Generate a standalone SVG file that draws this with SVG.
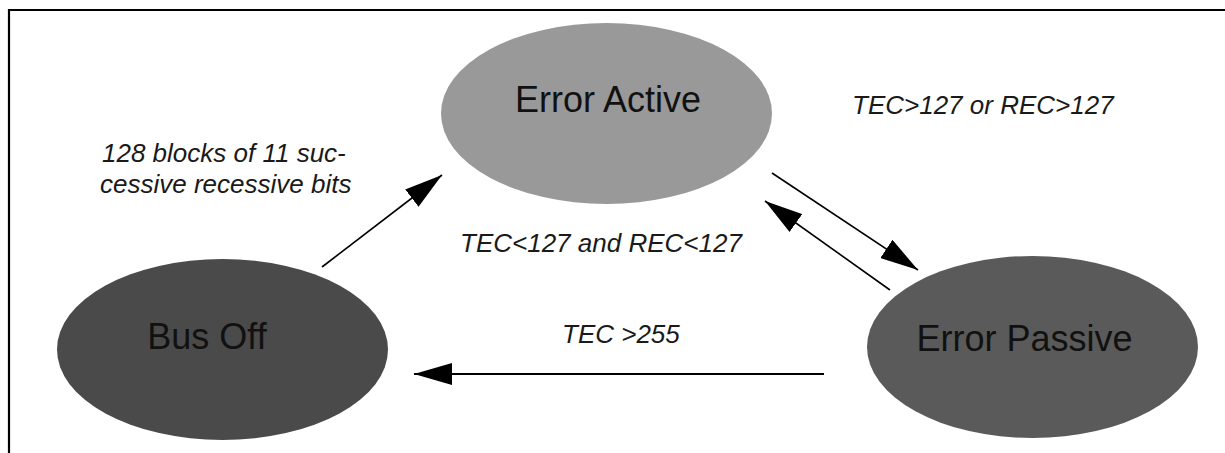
<svg xmlns="http://www.w3.org/2000/svg" width="1225" height="453" viewBox="0 0 1225 453">
  <style>
    .node-label { font-family: "Liberation Sans", Arial, sans-serif; font-size: 36px; fill: #111; }
    .edge-label { font-family: "Liberation Sans", Arial, sans-serif; font-size: 26px; font-style: italic; fill: #1a1a1a; }
    .edge { stroke: #000; stroke-width: 1.6; fill: none; marker-end: url(#arrow); }
  </style>
  <defs>
    <marker id="arrow" markerUnits="userSpaceOnUse" markerWidth="38" markerHeight="22" refX="38" refY="11" orient="auto" viewBox="0 0 38 22">
      <path d="M0,0 L38,11 L0,22 Z" fill="#000"/>
    </marker>
  </defs>
  <rect width="1225" height="453" fill="#fff"/>
  <path d="M9,453 V10 H1225" fill="none" stroke="#000" stroke-width="2.2"/>

  <g id="node-error-active">
    <ellipse cx="606.5" cy="113.5" rx="165.5" ry="90.5" fill="#999999"/>
    <text class="node-label" x="608" y="112" text-anchor="middle">Error Active</text>
  </g>
  <g id="node-bus-off">
    <ellipse cx="222.5" cy="349.5" rx="165.5" ry="90.5" fill="#4a4a4a"/>
    <text class="node-label" x="207" y="349" text-anchor="middle">Bus Off</text>
  </g>
  <g id="node-error-passive">
    <ellipse cx="1032.5" cy="347" rx="165.5" ry="91" fill="#5a5a5a"/>
    <text class="node-label" x="1024.5" y="351" text-anchor="middle">Error Passive</text>
  </g>

  <g id="connectors">
    <path class="edge" d="M322,267 L442,175"/>
    <path class="edge" d="M772,173 L918,270"/>
    <path class="edge" d="M890,290 L765,201"/>
    <path class="edge" d="M824,374 L414,374" style="stroke-width:2.2"/>
  </g>

  <g id="labels">
    <text class="edge-label" x="102" y="162">128 blocks of 11 suc-</text>
    <text class="edge-label" x="100" y="193">cessive recessive bits</text>
    <text class="edge-label" x="852" y="114">TEC&gt;127 or REC&gt;127</text>
    <text class="edge-label" x="460" y="252">TEC&lt;127 and REC&lt;127</text>
    <text class="edge-label" x="562" y="343">TEC &gt;255</text>
  </g>
</svg>
